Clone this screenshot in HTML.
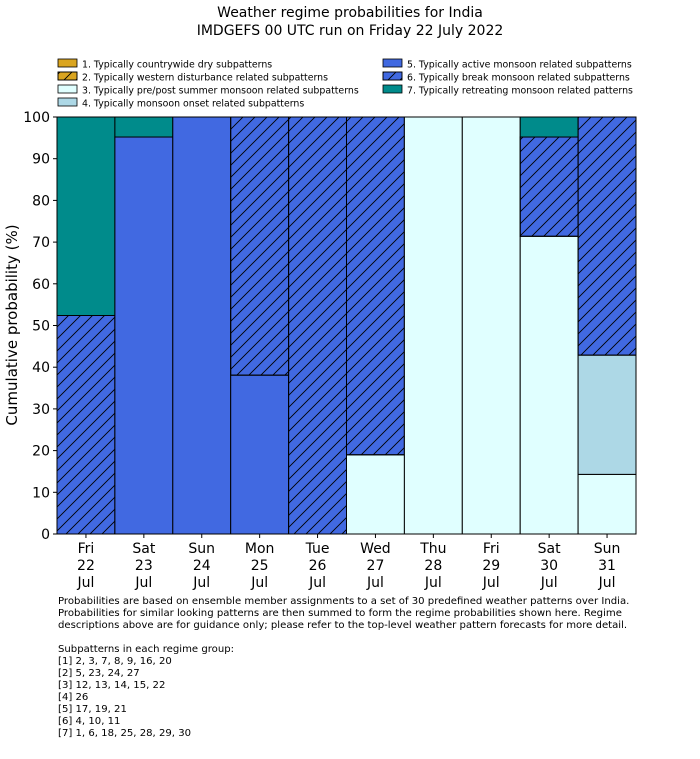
<!DOCTYPE html>
<html><head><meta charset="utf-8"><style>
body{margin:0;background:#fff;}
svg text{font-family:"DejaVu Sans","Liberation Sans",sans-serif;fill:#000;}
</style></head><body>
<svg id="chart" width="700" height="754" viewBox="0 0 700 754" xmlns="http://www.w3.org/2000/svg">
<defs>
<pattern id="hatch" patternUnits="userSpaceOnUse" width="12" height="12">
<path d="M-3,3 L3,-3 M0,12 L12,0 M9,15 L15,9" stroke="#000" stroke-width="0.9"/>
</pattern>
</defs>
<text x="350" y="17" text-anchor="middle" font-size="14">Weather regime probabilities for India</text>
<text x="350" y="35" text-anchor="middle" font-size="14">IMDGEFS 00 UTC run on Friday 22 July 2022</text>
<g id="legend"></g>
<g id="bars"></g>
<g id="axes"></g>
<text transform="translate(17,325) rotate(-90)" text-anchor="middle" font-size="15">Cumulative probability (%)</text>
<g font-size="10.1">
<text x="58" y="604">Probabilities are based on ensemble member assignments to a set of 30 predefined weather patterns over India.</text>
<text x="58" y="616">Probabilities for similar looking patterns are then summed to form the regime probabilities shown here. Regime</text>
<text x="58" y="628">descriptions above are for guidance only; please refer to the top-level weather pattern forecasts for more detail.</text>
<text x="58" y="652">Subpatterns in each regime group:</text>
<text x="58" y="664">[1] 2, 3, 7, 8, 9, 16, 20</text>
<text x="58" y="676">[2] 5, 23, 24, 27</text>
<text x="58" y="688">[3] 12, 13, 14, 15, 22</text>
<text x="58" y="700">[4] 26</text>
<text x="58" y="712">[5] 17, 19, 21</text>
<text x="58" y="724">[6] 4, 10, 11</text>
<text x="58" y="736">[7] 1, 6, 18, 25, 28, 29, 30</text>
</g>
</svg>
<script>
const days = ["Fri","Sat","Sun","Mon","Tue","Wed","Thu","Fri","Sat","Sun"];
const dates = ["22","23","24","25","26","27","28","29","30","31"];
const regimeNames = ["1. Typically countrywide dry subpatterns","2. Typically western disturbance related subpatterns","3. Typically pre/post summer monsoon related subpatterns","4. Typically monsoon onset related subpatterns","5. Typically active monsoon related subpatterns","6. Typically break monsoon related subpatterns","7. Typically retreating monsoon related patterns"];
const r1 = [0,0,0,0,0,0,0,0,0,0];
const r2 = [0,0,0,0,0,0,0,0,0,0];
const r3 = [0,0,0,0,0,19.0,100,100,71.4,14.3];
const r4 = [0,0,0,0,0,0,0,0,0,28.6];
const r5 = [0,95.2,100,38.1,0,0,0,0,0,0];
const r6 = [52.4,0,0,61.9,100,81.0,0,0,23.8,57.1];
const r7 = [47.6,4.8,0,0,0,0,0,0,4.8,0];
const yTicks = [0,10,20,30,40,50,60,70,80,90,100];

const NS="http://www.w3.org/2000/svg";
const X0=57,X1=636,Y0=534,Y1=117;
const bw=(X1-X0)/days.length;
const xs=i=>X0+i*bw;
const ys=v=>Y0-(Y0-Y1)*v/100;
const fills=["#daa520","#daa520","#e0ffff","#add8e6","#4169e1","#4169e1","#008b8b"];
const hatched=[false,true,false,false,false,true,false];
const series=[r1,r2,r3,r4,r5,r6,r7];
function mk(t,a,p){const e=document.createElementNS(NS,t);for(const k in a)e.setAttribute(k,a[k]);p.appendChild(e);return e;}
const bars=document.getElementById('bars');
for(let i=0;i<days.length;i++){
  let cum=0;
  for(let s=0;s<series.length;s++){
    const v=series[s][i]; if(!v) continue;
    const yt=ys(cum+v), yb=ys(cum);
    const r=mk('rect',{x:xs(i),y:yt,width:bw,height:yb-yt,fill:fills[s],stroke:'#000','stroke-width':1},bars);
    
    
    if(hatched[s]){const h=mk('rect',{x:xs(i),y:yt,width:bw,height:yb-yt,fill:'url(#hatch)',stroke:'#000','stroke-width':1},bars);
      
      }
    cum+=v;
  }
}
const axes=document.getElementById('axes');
const frame=mk('rect',{x:X0,y:Y1,width:X1-X0,height:Y0-Y1,fill:'none',stroke:'#000','stroke-width':1},axes);


yTicks.forEach(t=>{
  mk('line',{x1:X0-4,x2:X0,y1:ys(t),y2:ys(t),stroke:'#000'},axes);
  const tx=mk('text',{x:X0-7,y:ys(t)+5,'text-anchor':'end','font-size':14},axes);
  tx.textContent=t;
  
  
});
days.forEach((d,i)=>{
  const cx=xs(i)+bw/2;
  mk('line',{x1:cx,x2:cx,y1:Y0,y2:Y0+4,stroke:'#000'},axes);
  [d,dates[i],"Jul"].forEach((s,k)=>{
    const tx=mk('text',{x:cx,y:Y0+19+k*17,'text-anchor':'middle','font-size':14},axes);
    tx.textContent=s;
    
    
  });
});
const lg=document.getElementById('legend');
const pos=[[58,64],[58,77],[58,90],[58,103],[383,64],[383,77],[383,90]];
regimeNames.forEach((n,s)=>{
  const [x,y]=pos[s];
  const r=mk('rect',{x:x,y:y-5,width:19,height:8,fill:fills[s],stroke:'#000','stroke-width':0.8},lg);
  
  
  if(hatched[s]) mk('rect',{x:x,y:y-5,width:19,height:8,fill:'url(#hatch)',stroke:'#000','stroke-width':0.8},lg);
  const t=mk('text',{x:x+24,y:y+3.5,'font-size':9.4},lg);
  t.textContent=n;
  
  
});
</script>
</body></html>
